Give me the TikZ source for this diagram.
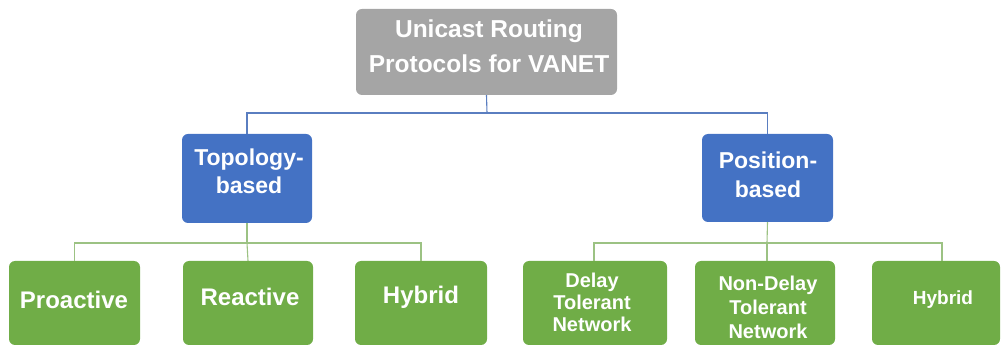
\documentclass[tikz,border=0pt]{standalone}
\usepackage{fontspec}
\setmainfont{Liberation Sans}
\begin{document}
\begin{tikzpicture}[x=1pt,y=-1pt,
  box/.style={rounded corners=6pt, inner sep=0pt, draw=none},
  graybox/.style={box, fill=boxgray},
  bluebox/.style={box, fill=boxblue},
  greenbox/.style={box, fill=boxgreen},
  lbl/.style={text=white, font=\bfseries, align=center, inner sep=0pt},
  blueline/.style={draw=lineblue, line width=1.1pt},
  greenline/.style={draw=linegreen, line width=1.1pt}]
\definecolor{boxgray}{HTML}{A5A5A5}
\definecolor{boxblue}{HTML}{4472C4}
\definecolor{boxgreen}{HTML}{70AD47}
\definecolor{lineblue}{HTML}{5A7EC0}
\definecolor{linegreen}{HTML}{9CC283}
\useasboundingbox (0,0) rectangle (1002,347);

% boxes
\node[graybox, minimum width=261pt, minimum height=86pt] (top) at (486.5,52) {};
\node[bluebox, minimum width=130pt, minimum height=89pt] (topo) at (247,178.5) {};
\node[bluebox, minimum width=131pt, minimum height=88pt] (pos) at (767.5,178) {};
\node[greenbox, minimum width=131pt, minimum height=84pt] (pro) at (74.5,303) {};
\node[greenbox, minimum width=130pt, minimum height=84pt] (rea) at (248,303) {};
\node[greenbox, minimum width=132pt, minimum height=84pt] (hyb1) at (421,303) {};
\node[greenbox, minimum width=144pt, minimum height=84pt] (dtn) at (595,303) {};
\node[greenbox, minimum width=140pt, minimum height=84pt] (ndtn) at (765,303) {};
\node[greenbox, minimum width=128pt, minimum height=84pt] (hyb2) at (936,303) {};

% labels
\node[lbl, font=\bfseries\fontsize{24.5}{35}\selectfont] (topt) at (489,46) {Unicast Routing\\Protocols for VANET};
\node[lbl, font=\bfseries\fontsize{23}{28}\selectfont] (topot) at (249,171) {Topology-\\based};
\node[lbl, font=\bfseries\fontsize{23}{29}\selectfont] (post) at (768,175) {Position-\\based};
\node[lbl, font=\bfseries\fontsize{24}{28}\selectfont] (prot) at (74,300) {Proactive};
\node[lbl, font=\bfseries\fontsize{24}{28}\selectfont] (reat) at (250,297) {Reactive};
\node[lbl, font=\bfseries\fontsize{24}{28}\selectfont] (hyb1t) at (421,297) {Hybrid};
\node[lbl, font=\bfseries\fontsize{20}{22}\selectfont] (dtnt) at (592,302) {Delay\\Tolerant\\Network};
\node[lbl, font=\bfseries\fontsize{20}{24}\selectfont] (ndtnt) at (768,307) {Non-Delay\\Tolerant\\Network};
\node[lbl, font=\bfseries\fontsize{19}{24}\selectfont] (hyb2t) at (943,300) {Hybrid};

% connectors
\coordinate (b1) at (487,113);
\coordinate (b2) at (247,243);
\coordinate (b3) at (767,243);
\draw[blueline] (top.south) -- (b1);
\draw[blueline] (topo.north) |- (b1) -| (pos.north);
\draw[greenline] (topo.south) -- (b2);
\draw[greenline] (pro.north) |- (b2) -| (hyb1.north);
\draw[greenline] (b2) -- (rea.north);
\draw[greenline] (pos.south) -- (b3);
\draw[greenline] ([xshift=-1pt]dtn.north) |- (b3) -| ([xshift=6pt]hyb2.north);
\draw[greenline] (b3) -- (b3 |- ndtn.north);
\end{tikzpicture}
\end{document}
